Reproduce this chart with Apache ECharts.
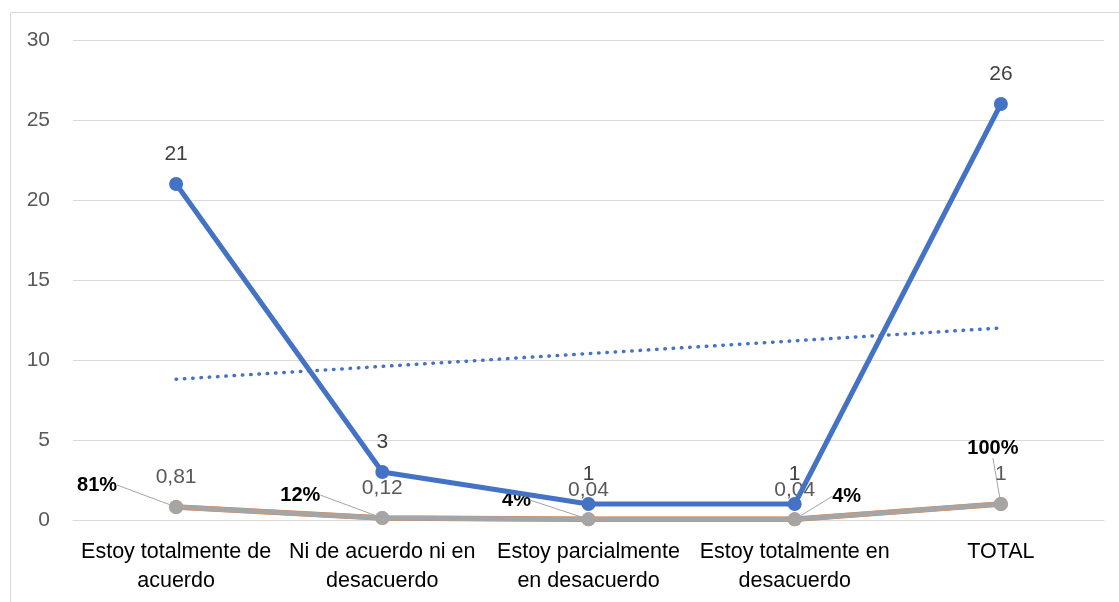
<!DOCTYPE html>
<html>
<head>
<meta charset="utf-8">
<script src="https://cdn.jsdelivr.net/npm/echarts@6/dist/echarts.min.js"></script>
<style>
  html, body { margin: 0; padding: 0; background: #fff; }
  #chart { width: 1119px; height: 602px; }
</style>
</head>
<body>
<div id="chart"></div>
<script>
  // datos
  var categorias = ['Estoy totalmente de\nacuerdo', 'Ni de acuerdo ni en\ndesacuerdo', 'Estoy parcialmente\nen desacuerdo', 'Estoy totalmente en\ndesacuerdo', 'TOTAL']
  var frecuencia = [21, 3, 1, 1, 26]
  var proporcion = [0.81, 0.12, 0.04, 0.04, 1]
  var porcentaje = [0.81, 0.12, 0.04, 0.04, 1]
  var tendencia = [8.8, '-', '-', '-', 12]
  var yTicks = [0, 5, 10, 15, 20, 25, 30]

  // desplazamiento de las etiquetas de porcentaje (centro respecto al punto)
  var pctOffset = [[-79, -22], [-82, -23], [-72, -19], [52, -23], [-8, -56]]

  var font = 'Liberation Sans'
  var myChart = echarts.init(document.getElementById('chart'))
  myChart.setOption({
    animation: false,
    backgroundColor: '#fff',
    graphic: [{
      type: 'rect',
      left: 8,
      top: 10,
      shape: { width: 1200, height: 700 },
      style: { fill: 'none', stroke: '#D9D9D9', lineWidth: 1 },
      silent: true
    }],
    grid: { left: 73, right: 15, top: 40, bottom: 82 },
    xAxis: {
      type: 'category',
      data: categorias,
      boundaryGap: true,
      axisLine: { show: true, lineStyle: { color: '#D9D9D9' } },
      axisTick: { show: false },
      axisLabel: {
        interval: 0,
        margin: 18,
        color: '#000',
        fontFamily: font,
        fontSize: 21.5,
        lineHeight: 29
      }
    },
    yAxis: {
      type: 'value',
      min: yTicks[0],
      max: yTicks[yTicks.length - 1],
      interval: 5,
      axisLine: { show: false },
      axisTick: { show: false },
      splitLine: { lineStyle: { color: '#D9D9D9', width: 1 } },
      axisLabel: { color: '#595959', fontFamily: font, fontSize: 21, margin: 23 }
    },
    series: [
      {
        name: 'Tendencia',
        type: 'line',
        data: tendencia,
        connectNulls: true,
        symbol: 'none',
        lineStyle: { color: '#4472C4', width: 3.5, type: [0.5, 7.8], cap: 'round' },
        z: 1
      },
      {
        name: 'Porcentaje',
        type: 'line',
        data: porcentaje,
        symbol: 'circle',
        symbolSize: 14,
        itemStyle: { color: '#ED7D31' },
        lineStyle: { color: '#ED7D31', width: 5.5 },
        label: {
          show: true,
          position: 'inside',
          color: '#000',
          fontFamily: font,
          fontSize: 20,
          fontWeight: 'bold',
          formatter: function (p) { return Math.round(p.value * 100) + '%' }
        },
        labelLayout: function (p) {
          var o = pctOffset[p.dataIndex]
          return { dx: o[0], dy: o[1] }
        },
        labelLine: { show: true, lineStyle: { color: '#A5A5A5', width: 1 } },
        z: 2
      },
      {
        name: 'Proporcion',
        type: 'line',
        data: proporcion,
        symbol: 'circle',
        symbolSize: 14,
        itemStyle: { color: '#A5A5A5' },
        lineStyle: { color: '#A5A5A5', width: 5 },
        label: {
          show: true,
          position: 'top',
          distance: 12,
          color: '#595959',
          fontFamily: font,
          fontSize: 21,
          formatter: function (p) { return String(p.value).replace('.', ',') }
        },
        z: 3
      },
      {
        name: 'Frecuencia',
        type: 'line',
        data: frecuencia,
        symbol: 'circle',
        symbolSize: 14,
        itemStyle: { color: '#4472C4' },
        lineStyle: { color: '#4472C4', width: 5 },
        label: {
          show: true,
          position: 'top',
          distance: 12,
          color: '#404040',
          fontFamily: font,
          fontSize: 21
        },
        z: 4
      }
    ]
  })
</script>
</body>
</html>
